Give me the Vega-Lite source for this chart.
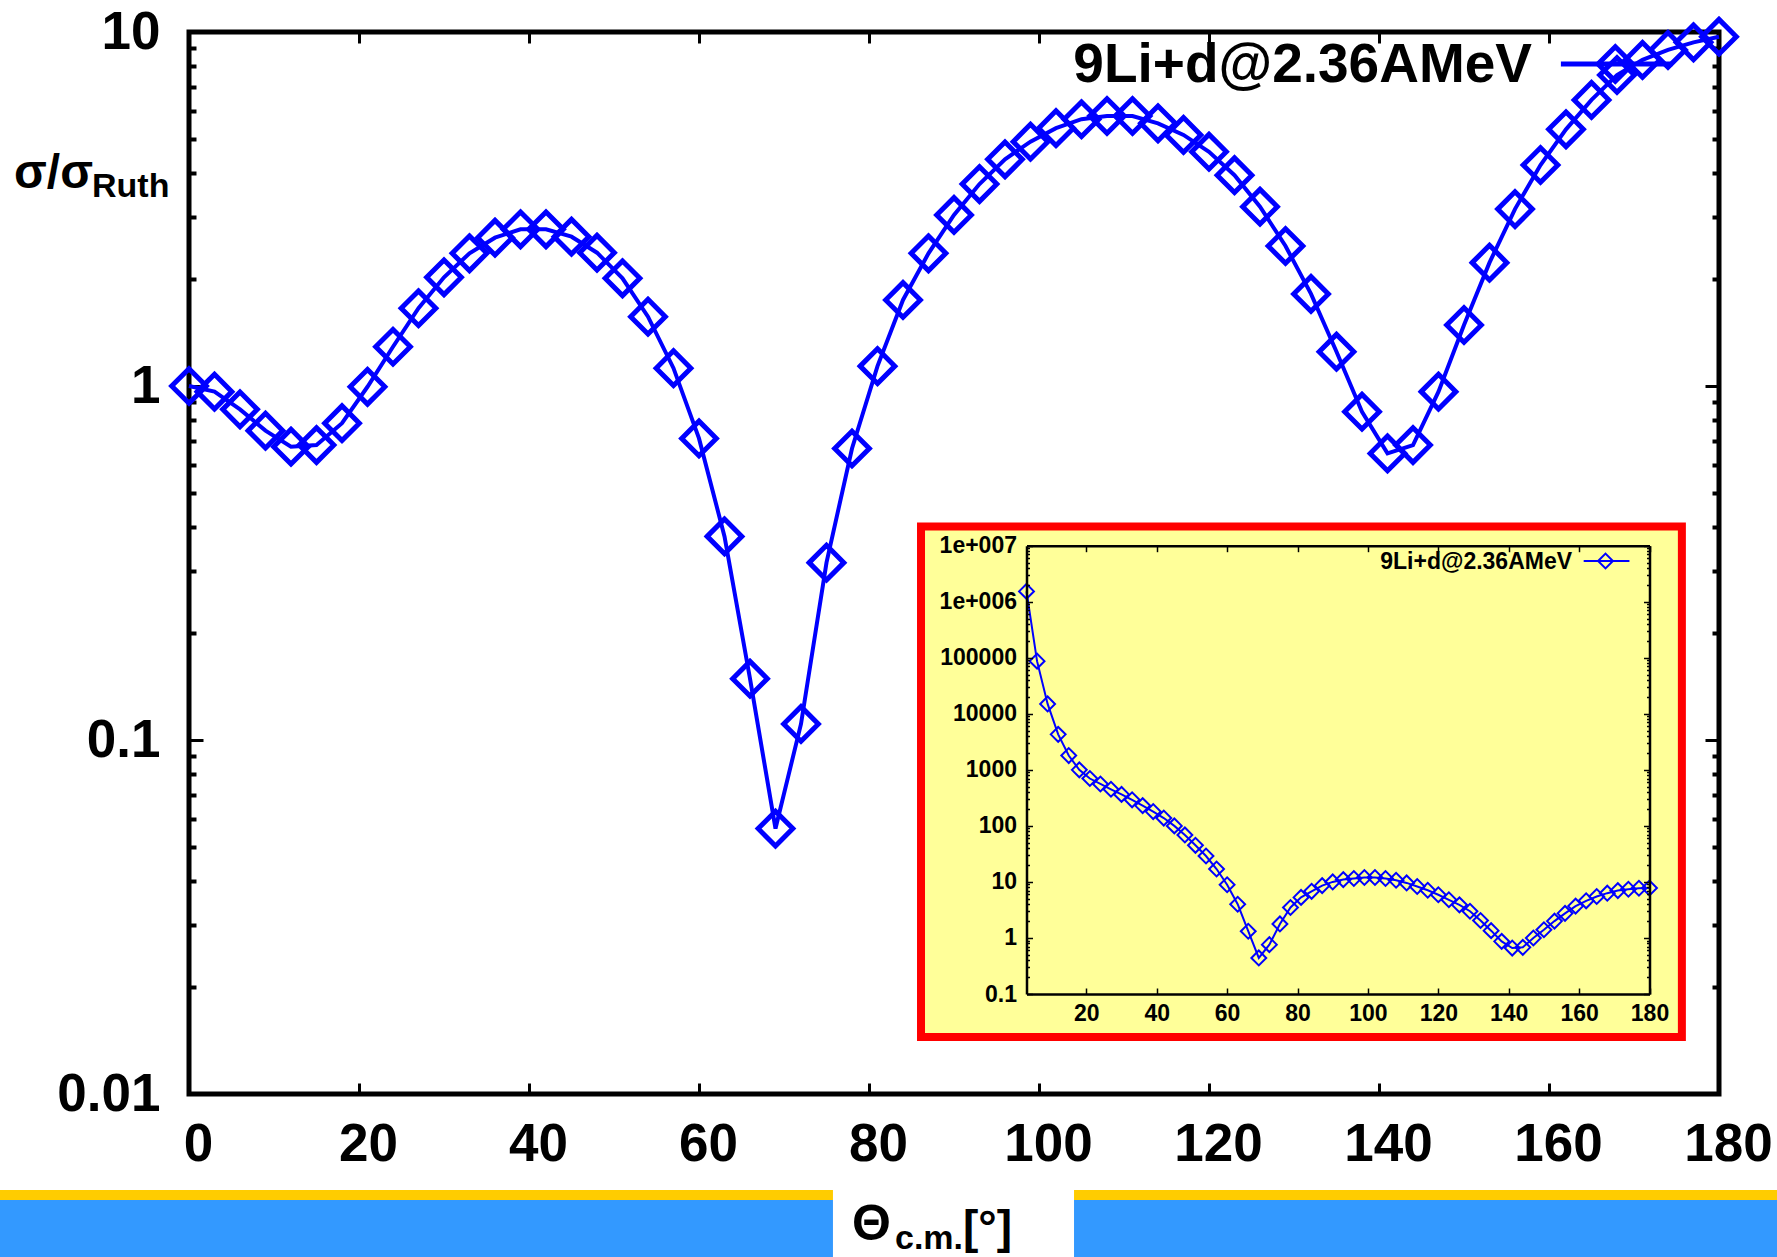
{
 "$schema": "https://vega.github.io/schema/vega-lite/v6.json",
 "width": 1530, "height": 1062,
 "autosize": {"type": "none"},
 "padding": {"left": 189, "top": 32, "right": 58, "bottom": 163},
 "background": "white",
 "config": {
  "font": "Liberation Sans",
  "view": {"stroke": "black", "strokeWidth": 5},
  "axis": {"grid": false, "tickColor": "black", "labelColor": "black", "domainColor": "black", "labelFont": "Liberation Sans", "labelFontWeight": "bold", "labelFlush": false, "labelOverlap": false}
 },
 "datasets": {
  "series": [{"name": "9Li+d@2.36AMeV"}],
  "ratio": [{"angle":0,"ratio":1.0},{"angle":3,"ratio":0.964},{"angle":6,"ratio":0.859},{"angle":9,"ratio":0.748},{"angle":12,"ratio":0.674},{"angle":15,"ratio":0.681},{"angle":18,"ratio":0.785},{"angle":21,"ratio":0.995},{"angle":24,"ratio":1.291},{"angle":27,"ratio":1.658},{"angle":30,"ratio":2.028},{"angle":33,"ratio":2.371},{"angle":36,"ratio":2.624},{"angle":39,"ratio":2.771},{"angle":42,"ratio":2.771},{"angle":45,"ratio":2.641},{"angle":48,"ratio":2.38},{"angle":51,"ratio":2.015},{"angle":54,"ratio":1.57},{"angle":57,"ratio":1.123},{"angle":60,"ratio":0.711},{"angle":63,"ratio":0.376},{"angle":66,"ratio":0.149},{"angle":69,"ratio":0.0562},{"angle":72,"ratio":0.111},{"angle":75,"ratio":0.317},{"angle":78,"ratio":0.666},{"angle":81,"ratio":1.138},{"angle":84,"ratio":1.75},{"angle":87,"ratio":2.371},{"angle":90,"ratio":3.042},{"angle":93,"ratio":3.72},{"angle":96,"ratio":4.37},{"angle":99,"ratio":4.9},{"angle":102,"ratio":5.35},{"angle":105,"ratio":5.67},{"angle":108,"ratio":5.79},{"angle":111,"ratio":5.79},{"angle":114,"ratio":5.52},{"angle":117,"ratio":5.12},{"angle":120,"ratio":4.59},{"angle":123,"ratio":3.94},{"angle":126,"ratio":3.21},{"angle":129,"ratio":2.486},{"angle":132,"ratio":1.82},{"angle":135,"ratio":1.25},{"angle":138,"ratio":0.846},{"angle":141,"ratio":0.645},{"angle":144,"ratio":0.681},{"angle":147,"ratio":0.964},{"angle":150,"ratio":1.487},{"angle":153,"ratio":2.231},{"angle":156,"ratio":3.16},{"angle":159,"ratio":4.21},{"angle":162,"ratio":5.31},{"angle":165,"ratio":6.43},{"angle":168,"ratio":7.56},{"angle":171,"ratio":8.34},{"angle":174,"ratio":8.9},{"angle":177,"ratio":9.35},{"angle":180,"ratio":9.7}],
  "cross": [{"angle":3,"sigma":1530000},{"angle":6,"sigma":87000},{"angle":9,"sigma":15000},{"angle":12,"sigma":4300},{"angle":15,"sigma":1800},{"angle":18,"sigma":1000},{"angle":21,"sigma":700},{"angle":24,"sigma":560},{"angle":27,"sigma":450},{"angle":30,"sigma":365},{"angle":33,"sigma":292},{"angle":36,"sigma":230},{"angle":39,"sigma":180},{"angle":42,"sigma":138},{"angle":45,"sigma":100},{"angle":48,"sigma":69},{"angle":51,"sigma":45},{"angle":54,"sigma":29},{"angle":57,"sigma":17},{"angle":60,"sigma":8.9},{"angle":63,"sigma":4.0},{"angle":66,"sigma":1.32},{"angle":69,"sigma":0.44},{"angle":72,"sigma":0.76},{"angle":75,"sigma":1.78},{"angle":78,"sigma":3.5},{"angle":81,"sigma":5.3},{"angle":84,"sigma":6.8},{"angle":87,"sigma":8.6},{"angle":90,"sigma":10},{"angle":93,"sigma":11},{"angle":96,"sigma":11.5},{"angle":99,"sigma":12},{"angle":102,"sigma":12},{"angle":105,"sigma":11.5},{"angle":108,"sigma":10.7},{"angle":111,"sigma":9.6},{"angle":114,"sigma":8.3},{"angle":117,"sigma":7.1},{"angle":120,"sigma":5.9},{"angle":123,"sigma":4.8},{"angle":126,"sigma":3.9},{"angle":129,"sigma":3.0},{"angle":132,"sigma":2.05},{"angle":135,"sigma":1.35},{"angle":138,"sigma":0.87},{"angle":141,"sigma":0.66},{"angle":144,"sigma":0.68},{"angle":147,"sigma":1.0},{"angle":150,"sigma":1.4},{"angle":153,"sigma":2.0},{"angle":156,"sigma":2.75},{"angle":159,"sigma":3.7},{"angle":162,"sigma":4.6},{"angle":165,"sigma":5.5},{"angle":168,"sigma":6.3},{"angle":171,"sigma":7.0},{"angle":174,"sigma":7.4},{"angle":177,"sigma":7.7},{"angle":180,"sigma":7.8}]
 },
 "data": {"name": "series"},
 "resolve": {"scale": {"x": "independent", "y": "independent"}},
 "layer": [
  {"mark": {"type": "rect", "color": "#FFCC00"},
   "encoding": {"x": {"datum": -23, "type": "quantitative", "scale": {"domain": [0, 180], "nice": false, "zero": false}, "axis": null}, "x2": {"datum": 188},
                "y": {"datum": 0.005355, "type": "quantitative", "scale": {"type": "log", "domain": [0.01, 10], "nice": false}, "axis": null}, "y2": {"datum": 0.005018}}},
  {"mark": {"type": "rect", "color": "#3399FF"},
   "encoding": {"x": {"datum": -23, "type": "quantitative", "scale": {"domain": [0, 180], "nice": false, "zero": false}, "axis": null}, "x2": {"datum": 188},
                "y": {"datum": 0.005018, "type": "quantitative", "scale": {"type": "log", "domain": [0.01, 10], "nice": false}, "axis": null}, "y2": {"datum": 0.003}}},
  {"mark": {"type": "rect", "color": "white"},
   "encoding": {"x": {"datum": 75.76, "type": "quantitative", "scale": {"domain": [0, 180], "nice": false, "zero": false}, "axis": null}, "x2": {"datum": 104.12},
                "y": {"datum": 0.0054, "type": "quantitative", "scale": {"type": "log", "domain": [0.01, 10], "nice": false}, "axis": null}, "y2": {"datum": 0.003}}},
  {"mark": {"type": "rect", "fill": "#FFFF99", "stroke": "#FF0000", "strokeWidth": 8},
   "encoding": {"x": {"datum": -26.97, "type": "quantitative", "scale": {"domain": [3, 180], "range": [837.5, 1460.5], "nice": false, "zero": false}, "axis": null}, "x2": {"datum": 189.2},
                "y": {"datum": 22000000, "type": "quantitative", "scale": {"type": "log", "domain": [0.1, 10000000], "range": [962, 513.7], "nice": false}, "axis": null}, "y2": {"datum": 0.0171}}},
  {"data": {"name": "cross"},
   "mark": {"type": "line", "color": "#0000FF", "strokeWidth": 2},
   "encoding": {
    "x": {"field": "angle", "type": "quantitative", "scale": {"domain": [3, 180], "range": [837.5, 1460.5], "nice": false, "zero": false},
          "axis": {"orient": "bottom", "offset": -100, "zindex": 1, "title": null, "values": [20,40,60,80,100,120,140,160,180], "domain": true, "domainWidth": 2.5, "tickSize": -6, "tickWidth": 1.5, "labelFontSize": 23, "labelPadding": 14}},
    "y": {"field": "sigma", "type": "quantitative", "scale": {"type": "log", "domain": [0.1, 10000000], "range": [962, 513.7], "nice": false},
          "axis": {"orient": "left", "offset": -837.5, "zindex": 1, "title": null, "values": [0.1,1,10,100,1000,10000,100000,1000000,10000000], "labelExpr": "datum.value >= 10000000 ? '1e+007' : datum.value >= 1000000 ? '1e+006' : datum.value < 1 ? '0.1' : format(datum.value, 'd')", "domain": true, "domainWidth": 2.5, "tickSize": -6, "tickWidth": 1.5, "labelFontSize": 23, "labelPadding": 16}}}},
  {"data": {"name": "cross"},
   "mark": {"type": "point", "shape": "diamond", "size": 220, "filled": false, "strokeWidth": 2, "color": "#0000FF", "opacity": 1},
   "encoding": {
    "x": {"field": "angle", "type": "quantitative", "scale": {"domain": [3, 180], "range": [837.5, 1460.5], "nice": false, "zero": false},
          "axis": {"orient": "top", "offset": -513.7, "zindex": 1, "title": null, "values": [20,40,60,80,100,120,140,160,180], "domain": true, "domainWidth": 2.5, "tickSize": -6, "tickWidth": 1.5, "labels": false}},
    "y": {"field": "sigma", "type": "quantitative", "scale": {"type": "log", "domain": [0.1, 10000000], "range": [962, 513.7], "nice": false},
          "axis": {"orient": "right", "offset": -69.5, "zindex": 1, "title": null, "values": [0.1,1,10,100,1000,10000,100000,1000000,10000000], "domain": true, "domainWidth": 2.5, "tickSize": -6, "tickWidth": 1.5, "labels": false}}}},
  {"mark": {"type": "text", "align": "right", "baseline": "alphabetic", "fontSize": 23, "fontWeight": "bold", "color": "black"},
   "encoding": {"x": {"datum": 158.0, "type": "quantitative", "scale": {"domain": [3, 180], "range": [837.5, 1460.5], "nice": false, "zero": false}, "axis": null},
                "y": {"datum": 3840000, "type": "quantitative", "scale": {"type": "log", "domain": [0.1, 10000000], "range": [962, 513.7], "nice": false}, "axis": null},
                "text": {"field": "name"}}},
  {"mark": {"type": "rule", "color": "#0000FF", "strokeWidth": 2},
   "encoding": {"x": {"datum": 161.3, "type": "quantitative", "scale": {"domain": [3, 180], "range": [837.5, 1460.5], "nice": false, "zero": false}, "axis": null}, "x2": {"datum": 174.3},
                "y": {"datum": 5330000, "type": "quantitative", "scale": {"type": "log", "domain": [0.1, 10000000], "range": [962, 513.7], "nice": false},
                      "axis": {"orient": "left", "offset": -837.5, "zindex": 1, "title": null, "values": [0.2,0.3,0.4,0.5,0.6,0.7,0.8,0.9,2,3,4,5,6,7,8,9,20,30,40,50,60,70,80,90,200,300,400,500,600,700,800,900,2000,3000,4000,5000,6000,7000,8000,9000,20000,30000,40000,50000,60000,70000,80000,90000,200000,300000,400000,500000,600000,700000,800000,900000,2000000,3000000,4000000,5000000,6000000,7000000,8000000,9000000], "domain": false, "tickSize": -3, "tickWidth": 1.5, "labels": false}}}},
  {"mark": {"type": "point", "shape": "diamond", "size": 220, "filled": false, "strokeWidth": 2, "color": "#0000FF", "opacity": 1},
   "encoding": {"x": {"datum": 167.5, "type": "quantitative", "scale": {"domain": [3, 180], "range": [837.5, 1460.5], "nice": false, "zero": false}, "axis": null},
                "y": {"datum": 5330000, "type": "quantitative", "scale": {"type": "log", "domain": [0.1, 10000000], "range": [962, 513.7], "nice": false},
                      "axis": {"orient": "right", "offset": -69.5, "zindex": 1, "title": null, "values": [0.2,0.3,0.4,0.5,0.6,0.7,0.8,0.9,2,3,4,5,6,7,8,9,20,30,40,50,60,70,80,90,200,300,400,500,600,700,800,900,2000,3000,4000,5000,6000,7000,8000,9000,20000,30000,40000,50000,60000,70000,80000,90000,200000,300000,400000,500000,600000,700000,800000,900000,2000000,3000000,4000000,5000000,6000000,7000000,8000000,9000000], "domain": false, "tickSize": -3, "tickWidth": 1.5, "labels": false}}}},
  {"data": {"name": "ratio"},
   "mark": {"type": "line", "color": "#0000FF", "strokeWidth": 4},
   "encoding": {
    "x": {"field": "angle", "type": "quantitative", "scale": {"domain": [0, 180], "nice": false, "zero": false},
          "axis": {"orient": "bottom", "title": null, "values": [0,20,40,60,80,100,120,140,160,180], "domain": false, "tickSize": -11, "tickWidth": 3, "labelFontSize": 53, "labelPadding": 35, "labelOffset": 9}},
    "y": {"field": "ratio", "type": "quantitative", "scale": {"type": "log", "domain": [0.01, 10], "nice": false},
          "axis": {"orient": "left", "title": null, "values": [0.01,0.1,1,10], "format": "~g", "domain": false, "tickSize": -14, "tickWidth": 3, "labelFontSize": 53, "labelPadding": 43}}}},
  {"data": {"name": "ratio"},
   "mark": {"type": "point", "shape": "diamond", "size": 1200, "filled": false, "strokeWidth": 5, "color": "#0000FF", "opacity": 1},
   "encoding": {
    "x": {"field": "angle", "type": "quantitative", "scale": {"domain": [0, 180], "nice": false, "zero": false},
          "axis": {"orient": "top", "title": null, "values": [0,20,40,60,80,100,120,140,160,180], "domain": false, "tickSize": -11, "tickWidth": 3, "labels": false}},
    "y": {"field": "ratio", "type": "quantitative", "scale": {"type": "log", "domain": [0.01, 10], "nice": false},
          "axis": {"orient": "right", "title": null, "values": [0.01,0.1,1,10], "domain": false, "tickSize": -14, "tickWidth": 3, "labels": false}}}},
  {"mark": {"type": "text", "align": "right", "baseline": "alphabetic", "fontSize": 55, "fontWeight": "bold", "color": "black"},
   "encoding": {"x": {"datum": 158.0, "type": "quantitative", "scale": {"domain": [0, 180], "nice": false, "zero": false}, "axis": null},
                "y": {"datum": 7.22, "type": "quantitative", "scale": {"type": "log", "domain": [0.01, 10], "nice": false}, "axis": null},
                "text": {"field": "name"}}},
  {"mark": {"type": "rule", "color": "#0000FF", "strokeWidth": 5},
   "encoding": {"x": {"datum": 161.4, "type": "quantitative", "scale": {"domain": [0, 180], "nice": false, "zero": false}, "axis": null}, "x2": {"datum": 174.5},
                "y": {"datum": 8.12, "type": "quantitative", "scale": {"type": "log", "domain": [0.01, 10], "nice": false},
                      "axis": {"orient": "left", "title": null, "values": [0.02,0.03,0.04,0.05,0.06,0.07,0.08,0.09,0.2,0.3,0.4,0.5,0.6,0.7,0.8,0.9,2,3,4,5,6,7,8,9], "domain": false, "tickSize": -7, "tickWidth": 4, "labels": false}}}},
  {"mark": {"type": "point", "shape": "diamond", "size": 1200, "filled": false, "strokeWidth": 5, "color": "#0000FF", "opacity": 1},
   "encoding": {"x": {"datum": 167.8, "type": "quantitative", "scale": {"domain": [0, 180], "nice": false, "zero": false}, "axis": null},
                "y": {"datum": 8.12, "type": "quantitative", "scale": {"type": "log", "domain": [0.01, 10], "nice": false},
                      "axis": {"orient": "right", "title": null, "values": [0.02,0.03,0.04,0.05,0.06,0.07,0.08,0.09,0.2,0.3,0.4,0.5,0.6,0.7,0.8,0.9,2,3,4,5,6,7,8,9], "domain": false, "tickSize": -7, "tickWidth": 4, "labels": false}}}},
  {"mark": {"type": "text", "text": "σ/σ", "align": "left", "baseline": "alphabetic", "fontSize": 48, "fontWeight": "bold", "color": "black"},
   "encoding": {"x": {"datum": -20.59, "type": "quantitative", "scale": {"domain": [0, 180], "nice": false, "zero": false}, "axis": null},
                "y": {"datum": 3.625, "type": "quantitative", "scale": {"type": "log", "domain": [0.01, 10], "nice": false}, "axis": null}}},
  {"mark": {"type": "text", "text": "Ruth", "align": "left", "baseline": "alphabetic", "fontSize": 34, "fontWeight": "bold", "color": "black"},
   "encoding": {"x": {"datum": -11.41, "type": "quantitative", "scale": {"domain": [0, 180], "nice": false, "zero": false}, "axis": null},
                "y": {"datum": 3.42, "type": "quantitative", "scale": {"type": "log", "domain": [0.01, 10], "nice": false}, "axis": null}}},
  {"mark": {"type": "text", "text": "Θ", "align": "left", "baseline": "alphabetic", "fontSize": 50, "fontWeight": "bold", "color": "black"},
   "encoding": {"x": {"datum": 78.0, "type": "quantitative", "scale": {"domain": [0, 180], "nice": false, "zero": false}, "axis": null},
                "y": {"datum": 0.003869, "type": "quantitative", "scale": {"type": "log", "domain": [0.01, 10], "nice": false}, "axis": null}}},
  {"mark": {"type": "text", "text": "c.m.", "align": "left", "baseline": "alphabetic", "fontSize": 34, "fontWeight": "bold", "color": "black"},
   "encoding": {"x": {"datum": 83.06, "type": "quantitative", "scale": {"domain": [0, 180], "nice": false, "zero": false}, "axis": null},
                "y": {"datum": 0.00364, "type": "quantitative", "scale": {"type": "log", "domain": [0.01, 10], "nice": false}, "axis": null}}},
  {"mark": {"type": "text", "text": "[°]", "align": "left", "baseline": "alphabetic", "fontSize": 46, "fontWeight": "bold", "color": "black"},
   "encoding": {"x": {"datum": 91.06, "type": "quantitative", "scale": {"domain": [0, 180], "nice": false, "zero": false}, "axis": null},
                "y": {"datum": 0.003794, "type": "quantitative", "scale": {"type": "log", "domain": [0.01, 10], "nice": false}, "axis": null}}}
 ]
}
